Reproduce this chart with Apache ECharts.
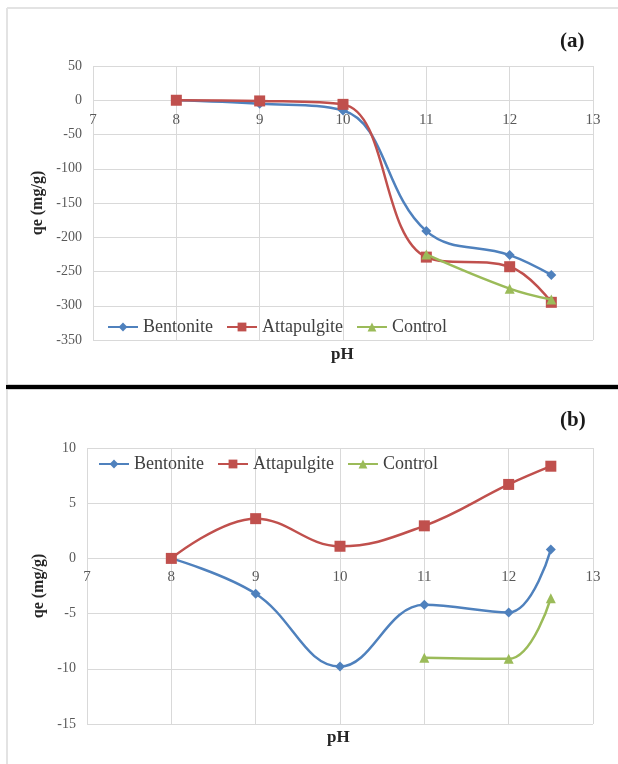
<!DOCTYPE html>
<html>
<head>
<meta charset="utf-8">
<script src="https://cdn.jsdelivr.net/npm/echarts@6/dist/echarts.min.js"></script>
<style>
  html, body { margin: 0; padding: 0; background: #fff; }
  #main { width: 618px; height: 764px; }
</style>
</head>
<body>
<div id="main"></div>
<script>
var chart = echarts.init(document.getElementById('main'));

// pH values used in both panels
var phAll = [8, 9, 10, 11, 12, 12.5];
var phControl = [11, 12, 12.5];

// panel (a)
var bentoniteA = [0, -5, -15, -191, -226, -255];
var attapulgiteA = [0, -1, -6, -229, -243, -295];
var controlA = [-225, -275, -291];

// panel (b)
var bentoniteB = [0, -3.2, -9.8, -4.2, -4.9, 0.8];
var attapulgiteB = [0, 3.6, 1.1, 2.95, 6.7, 8.35];
var controlB = [-9.0, -9.1, -3.6];

var names = ['Bentonite', 'Attapulgite', 'Control'];
var colors = ['#4F81BD', '#C0504D', '#9BBB59'];
var symbols = ['diamond', 'rect', 'triangle'];
var symbolSizes = [10, 11, 10];

function pairs(xs, ys) {
    return xs.map(function (x, i) { return [x, ys[i]]; });
}

var font = 'Liberation Serif';
var gridColor = '#d9d9d9';

// labels sit next to the zero line, so pull them up from the grid bottom
function xAxisFor(gridIndex, labelMargin) {
    return {
        type: 'value', gridIndex: gridIndex,
        min: 7, max: 13, interval: 1,
        axisLine: { show: false, onZero: false },
        axisTick: { show: false },
        axisLabel: { fontFamily: font, fontSize: 15, color: '#595959', margin: labelMargin },
        splitLine: { show: true, lineStyle: { color: gridColor } }
    };
}

function yAxisFor(gridIndex, min, max, interval, gap) {
    return {
        type: 'value', gridIndex: gridIndex,
        min: min, max: max, interval: interval,
        name: 'qe (mg/g)', nameLocation: 'middle', nameGap: gap,
        nameTextStyle: { fontFamily: font, fontSize: 16, fontWeight: 'bold', color: '#262626' },
        axisLine: { show: false },
        axisTick: { show: false },
        axisLabel: { fontFamily: font, fontSize: 14, color: '#595959', margin: 11 },
        splitLine: { lineStyle: { color: gridColor } }
    };
}

function makeSeries(idx, axisIndex, xs, ys) {
    return {
        name: names[idx], type: 'line',
        xAxisIndex: axisIndex, yAxisIndex: axisIndex,
        data: pairs(xs, ys),
        smooth: 0.4,
        symbol: symbols[idx], symbolSize: symbolSizes[idx],
        showAllSymbol: true,
        lineStyle: { color: colors[idx], width: 2.5 },
        itemStyle: { color: colors[idx] },
        z: 3 + idx
    };
}

function legendFor(left, top) {
    return {
        left: left, top: top, padding: 0,
        data: names,
        itemWidth: 30, itemHeight: 11, itemGap: 13,
        textStyle: { fontFamily: font, fontSize: 18, color: '#404040' },
        selectedMode: false
    };
}

var option = {
    animation: false,
    color: colors,
    grid: [
        { left: 93, right: 25, top: 66, bottom: 424 },
        { left: 87, right: 25, top: 448, bottom: 40 }
    ],
    xAxis: [xAxisFor(0, -227), xAxisFor(1, -154)],
    yAxis: [
        yAxisFor(0, -350, 50, 50, 46),
        yAxisFor(1, -15, 10, 5, 40)
    ],
    legend: [legendFor(107, 318), legendFor(98, 455)],
    series: [
        makeSeries(0, 0, phAll, bentoniteA),
        makeSeries(1, 0, phAll, attapulgiteA),
        makeSeries(2, 0, phControl, controlA),
        makeSeries(0, 1, phAll, bentoniteB),
        makeSeries(1, 1, phAll, attapulgiteB),
        makeSeries(2, 1, phControl, controlB)
    ],
    graphic: [
        // panel frames
        { type: 'line', shape: { x1: 7, y1: 8, x2: 618, y2: 8 }, style: { stroke: '#e3e3e3', lineWidth: 2 } },
        { type: 'line', shape: { x1: 7, y1: 8, x2: 7, y2: 764 }, style: { stroke: '#e3e3e3', lineWidth: 2 } },
        { type: 'rect', shape: { x: 6, y: 384, width: 612, height: 6 }, style: { fill: '#d0d0d0' } },
        { type: 'rect', shape: { x: 6, y: 385, width: 612, height: 4 }, style: { fill: '#000' } },
        // panel labels
        { type: 'text', left: 560, top: 31, style: { text: '(a)', font: 'bold 21px "Liberation Serif"', fill: '#1a1a1a' } },
        { type: 'text', left: 560, top: 410, style: { text: '(b)', font: 'bold 21px "Liberation Serif"', fill: '#1a1a1a' } },
        // x axis names
        { type: 'text', left: 331, top: 346, style: { text: 'pH', font: 'bold 17px "Liberation Serif"', fill: '#262626' } },
        { type: 'text', left: 327, top: 729, style: { text: 'pH', font: 'bold 17px "Liberation Serif"', fill: '#262626' } }
    ]
};

chart.setOption(option);

window.onresize = chart.resize;
</script>
</body>
</html>
